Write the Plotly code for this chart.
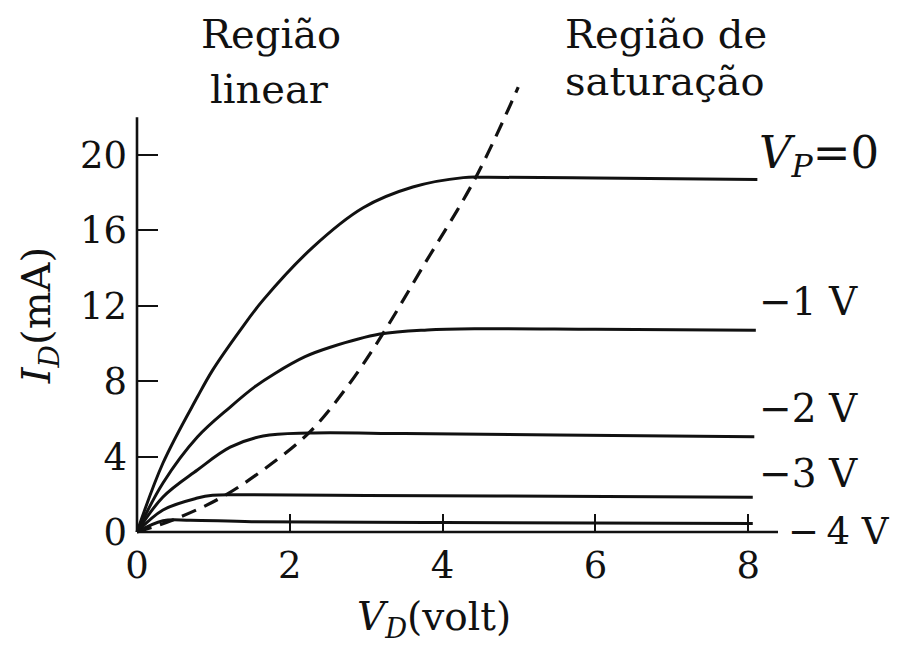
import plotly.graph_objects as go

# ---- data ----
vp0_x = [0, 0.34, 0.79, 0.99, 1.35, 1.65, 2.30, 2.96, 3.61, 4.27, 4.6, 6.0, 8.12]
vp0_y = [0, 3.66, 7.16, 8.59, 10.7, 12.3, 15.1, 17.2, 18.3, 18.8, 18.82, 18.78, 18.7]

vm1_x = [0, 0.34, 0.79, 1.22, 1.54, 1.8, 2.2, 2.53, 3.18, 3.8, 4.49, 6.0, 8.1]
vm1_y = [0, 2.6, 5.04, 6.63, 7.7, 8.4, 9.3, 9.8, 10.5, 10.72, 10.78, 10.75, 10.7]

vm2_x = [0, 0.34, 0.79, 1.22, 1.65, 2.26, 3.5, 5.5, 8.08]
vm2_y = [0, 1.86, 3.29, 4.5, 5.09, 5.25, 5.22, 5.15, 5.05]

vm3_x = [0, 0.34, 0.79, 0.99, 1.3, 3.0, 5.5, 8.06]
vm3_y = [0, 1.17, 1.8, 1.95, 1.98, 1.93, 1.9, 1.85]

vm4_x = [0, 0.34, 0.7, 1.5, 4.0, 8.06]
vm4_y = [0, 0.6, 0.62, 0.55, 0.5, 0.45]

sat_x = [0, 0.47, 1.09, 1.65, 2.26, 2.75, 3.2, 3.74, 4.42, 4.99]
sat_y = [0, 0.64, 1.8, 3.29, 5.3, 7.7, 10.4, 14.06, 18.7, 23.6]

x_ticks = [0, 2, 4, 6, 8]
y_ticks = [0, 4, 8, 12, 16, 20]
x_axis_end = 8.39
y_axis_end = 22.0

curve_labels = ["<i>V</i><sub><i>P</i></sub>=0", "\u22121 V", "\u22122 V", "\u22123 V", "\u2212\u20094 V"]
label_x = [8.12, 8.11, 8.11, 8.11, 8.5]
label_y = [20.0, 12.25, 6.53, 3.13, 0.05]
label_size = [45, 39, 39, 39, 37]

# ---- figure geometry (pixel mapping of the reference; page body has an 8px margin) ----
PAGE_MARGIN = 8
W, H = 899 - PAGE_MARGIN, 651 - PAGE_MARGIN
X0_PX, Y0_PX = 137 - PAGE_MARGIN, 532 - PAGE_MARGIN
PX_PER_X, PX_PER_Y = 76.4, 18.85
xr = [-X0_PX / PX_PER_X, (W - X0_PX) / PX_PER_X]
yr = [-(H - Y0_PX) / PX_PER_Y, Y0_PX / PX_PER_Y]

SERIF = "DejaVu Serif"
INK = "#111111"

fig = go.Figure()

for xs, ys in [(vp0_x, vp0_y), (vm1_x, vm1_y), (vm2_x, vm2_y), (vm3_x, vm3_y), (vm4_x, vm4_y)]:
    fig.add_trace(go.Scatter(x=xs, y=ys, mode="lines",
                             line=dict(color=INK, width=3, shape="spline", smoothing=1.0),
                             hoverinfo="skip"))

fig.add_trace(go.Scatter(x=sat_x, y=sat_y, mode="lines",
                         line=dict(color=INK, width=3.2, dash="15px,9px", shape="spline", smoothing=1.0),
                         hoverinfo="skip"))

# axis lines
fig.add_trace(go.Scatter(x=[0, x_axis_end], y=[0, 0], mode="lines",
                         line=dict(color=INK, width=2.6), hoverinfo="skip"))
fig.add_trace(go.Scatter(x=[0, 0], y=[0, y_axis_end], mode="lines",
                         line=dict(color=INK, width=2.6), hoverinfo="skip"))

fig.update_layout(
    width=W, height=H,
    margin=dict(l=0, r=0, t=0, b=0, autoexpand=False),
    paper_bgcolor="white", plot_bgcolor="white",
    showlegend=False,
    xaxis=dict(range=xr, anchor="free", position=1 - Y0_PX / H, automargin=False,
               showgrid=False, zeroline=False, showline=False,
               tickvals=x_ticks, ticktext=[str(v) for v in x_ticks],
               ticks="inside", ticklen=18, tickwidth=2, tickcolor=INK,
               ticklabelstandoff=8,
               tickfont=dict(family=SERIF, size=37, color=INK)),
    yaxis=dict(range=yr, anchor="free", position=X0_PX / W, automargin=False,
               showgrid=False, zeroline=False, showline=False,
               tickvals=y_ticks, ticktext=[str(v) for v in y_ticks],
               ticks="inside", ticklen=20, tickwidth=2, tickcolor=INK,
               ticklabelstandoff=10,
               tickfont=dict(family=SERIF, size=37, color=INK)),
)

ann_font = dict(family=SERIF, size=40, color=INK)
annotations = [
    dict(x=3.89, y=-4.6, text="<i>V</i><sub><i>D</i></sub>(volt)", font=dict(family=SERIF, size=39, color=INK)),
    dict(x=-1.28, y=11.46, text="<i>I</i><sub><i>D</i></sub>(mA)", textangle=-90,
         font=dict(family=SERIF, size=40, color=INK)),
    dict(x=1.754, y=26.4, text="Região", font=ann_font),
    dict(x=1.73, y=23.5, text="linear", font=ann_font),
    dict(x=6.92, y=26.4, text="Região de", font=ann_font),
    dict(x=6.91, y=23.9, text="saturação", font=ann_font),
]
for t, lx, ly, fs in zip(curve_labels, label_x, label_y, label_size):
    annotations.append(dict(x=lx, y=ly, text=t, xanchor="left",
                            font=dict(family=SERIF, size=fs, color=INK)))

for a in annotations:
    a.setdefault("xanchor", "center")
    a.setdefault("yanchor", "middle")
    a["showarrow"] = False
    a["xref"] = "x"
    a["yref"] = "y"
fig.update_layout(annotations=annotations)

fig.write_html("out.html")
